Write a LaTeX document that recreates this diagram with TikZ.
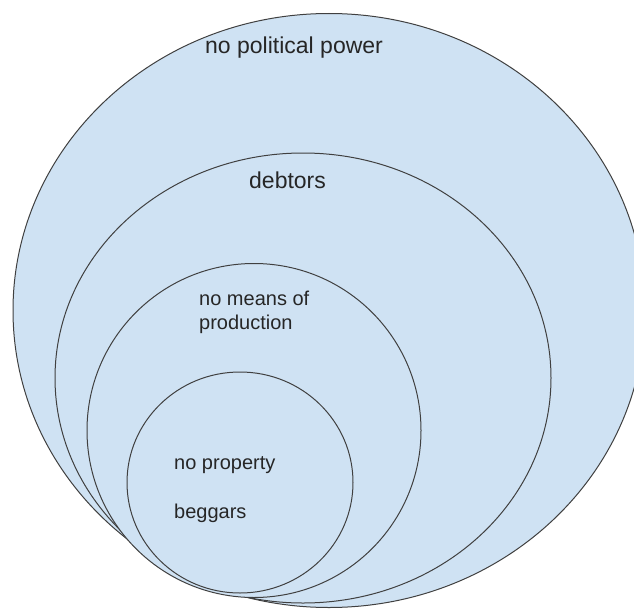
\documentclass[tikz,border=0pt]{standalone}
\usepackage{fontspec}
\setmainfont{Liberation Sans}
\definecolor{fillblue}{HTML}{CFE2F3}
\definecolor{edgegray}{HTML}{404040}
\begin{document}
\begin{tikzpicture}[x=1pt,y=-1pt,
  ring/.style={fill=fillblue,draw=edgegray,line width=1pt},
  bigtxt/.style={anchor=base west,inner sep=0pt,font=\fontsize{23}{27}\selectfont,text=black!85},
  smalltxt/.style={anchor=base west,inner sep=0pt,font=\fontsize{20}{24}\selectfont,text=black!85}]
\useasboundingbox (0,0) rectangle (634,610);
\clip (0,0) rectangle (634,610);
\path[ring] (329,310.5) ellipse [x radius=316pt, y radius=297pt];
\path[ring] (303,378) ellipse [x radius=248pt, y radius=225pt];
\path[ring] (254,430.5) ellipse [x radius=167pt, y radius=167pt];
\path[ring] (240,482.5) ellipse [x radius=113pt, y radius=110.5pt];
\node[bigtxt] (power) at (205,53) {no political power};
\node[bigtxt] (debt) at (249,188) {debtors};
\node[smalltxt] (means) at (199,305) {no means of};
\node[smalltxt] (prod) at (199,329) {production};
\node[smalltxt] (prop) at (174,469) {no property};
\node[smalltxt] (beg) at (174,518) {beggars};
\end{tikzpicture}
\end{document}
